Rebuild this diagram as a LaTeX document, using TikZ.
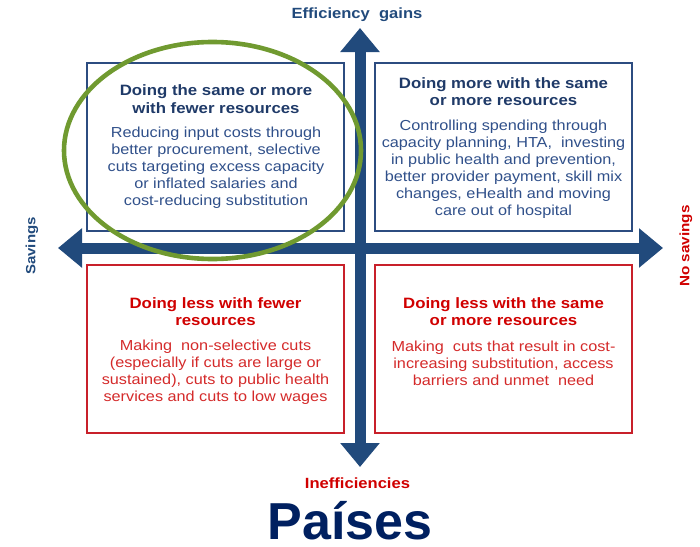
\documentclass[tikz,border=0pt]{standalone}
\usepackage{fontspec}
\setmainfont{Liberation Sans}
\newfontfamily\labfont[FakeStretch=1.12]{Liberation Sans}
\usetikzlibrary{arrows.meta}
\definecolor{axisblue}{HTML}{214A7C}
\definecolor{titleblue}{HTML}{1F3A68}
\definecolor{bodyblue}{HTML}{30508A}
\definecolor{frameblue}{HTML}{2C4C80}
\definecolor{titlered}{HTML}{D00000}
\definecolor{bodyred}{HTML}{D42A2A}
\definecolor{framered}{HTML}{C8202A}
\definecolor{ringgreen}{HTML}{709A30}
\definecolor{navy}{HTML}{002060}
\tikzset{
  quad/.style={draw, line width=1.3pt, minimum width=257pt, minimum height=168pt, inner sep=0pt},
  bluequad/.style={quad, draw=frameblue},
  redquad/.style={quad, draw=framered},
  qtitle/.style={align=center, inner sep=0pt, font=\labfont\bfseries\fontsize{15}{17.5}\selectfont},
  qbody/.style={align=center, inner sep=0pt, font=\labfont\fontsize{14.5}{17}\selectfont},
  axislabel/.style={inner sep=0pt, font=\labfont\bfseries\fontsize{14.8}{17}\selectfont},
  axis/.style={draw=axisblue, line width=11pt,
    {Triangle[width=38pt,length=24pt]}-{Triangle[width=38pt,length=24pt]}},
}
\begin{document}
\begin{tikzpicture}[x=1pt,y=-1pt]
\useasboundingbox (0,0) rectangle (700,546);

% quadrant frames
\node[bluequad] (tl) at (215.5,147) {};
\node[bluequad] (tr) at (503.5,147) {};
\node[redquad]  (bl) at (215.5,349) {};
\node[redquad]  (br) at (503.5,349) {};

% axis end points
\coordinate (top) at (360,28);
\coordinate (bottom) at (360,467);
\coordinate (left) at (58,248);
\coordinate (right) at (663,248);

\draw[axis] (bottom) -- (top);
\draw[axis] (left) -- (right);

% quadrant texts
\node[qtitle, text=titleblue] (tlh) at (216,99) {Doing the same or more\\with fewer resources};
\node[qbody, text=bodyblue] (tlb) at (216,167.5) {Reducing input costs through\\better procurement, selective\\cuts targeting excess capacity\\or inflated salaries and\\cost-reducing substitution};

\node[qtitle, text=titleblue] (trh) at (503.5,91.5) {Doing more with the same\\or more resources};
\node[qbody, text=bodyblue] (trb) at (503.5,169.5) {Controlling spending through\\capacity planning, HTA,\ \ investing\\in public health and prevention,\\better provider payment, skill mix\\changes, eHealth and moving\\care out of hospital};

\node[qtitle, text=titlered] (blh) at (215.5,311.5) {Doing less with fewer\\resources};
\node[qbody, text=bodyred] (blb) at (215.5,372) {Making\ \ non-selective cuts\\(especially if cuts are large or\\sustained), cuts to public health\\services and cuts to low wages};

\node[qtitle, text=titlered] (brh) at (503.5,311.5) {Doing less with the same\\or more resources};
\node[qbody, text=bodyred] (brb) at (503.5,363.5) {Making\ \ cuts that result in cost-\\increasing substitution, access\\barriers and unmet\ \ need};

% axis labels
\node[axislabel, text=axisblue] (gain) at (357,15) {Efficiency\ \ gains};
\node[axislabel, text=titlered] (loss) at (357.5,483) {Inefficiencies};
\node[axislabel, text=axisblue, rotate=90, font=\labfont\bfseries\fontsize{13.4}{15}\selectfont] (sav) at (32,246) {Savings};
\node[axislabel, text=titlered, rotate=90, font=\labfont\bfseries\fontsize{13.6}{15}\selectfont] (nosav) at (686,246) {No savings};

% highlight ring
\draw[ringgreen, line width=4.6pt] (212.5,150.5) ellipse [x radius=148.5pt, y radius=108.5pt];

% caption
\node[inner sep=0pt, anchor=base, text=navy, font=\bfseries\fontsize{52}{58}\selectfont] (cap) at (350,539.5) {Países};
\end{tikzpicture}
\end{document}
